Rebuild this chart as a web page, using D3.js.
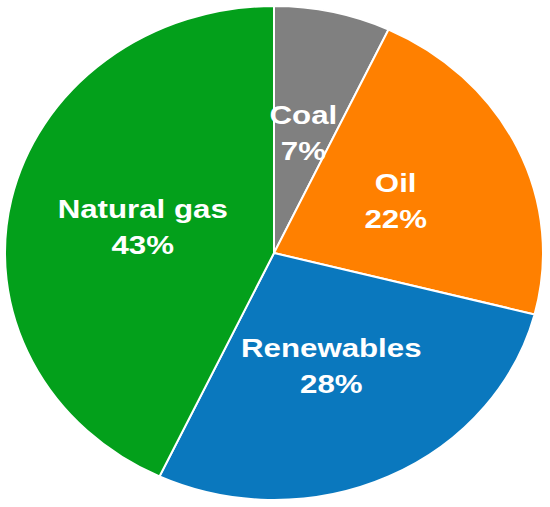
<!DOCTYPE html>
<html>
<head>
<meta charset="utf-8">
<script src="https://cdn.jsdelivr.net/npm/d3@7"></script>
<style>
  html, body { margin: 0; padding: 0; background: #fff; }
  svg { display: block; }
</style>
</head>
<body>
<svg id="chart" width="550" height="507"></svg>
<script>
const categories = ["Coal", "Oil", "Renewables", "Natural gas"];
const shares = [7, 22, 28, 43];
const colors = ["#808080", "#FF8000", "#0A78BE", "#03A01B"];

const W = 550, H = 507;
const cx = 274, cy = 253;
const ry = 247, rx = 269;
const sx = rx / ry;

const svg = d3.select("#chart");

const data = categories.map((c, i) => ({ name: c, value: shares[i], color: colors[i] }));

const pie = d3.pie().value(d => d.value).sort(null);
const arcs = pie(data);
const arc = d3.arc().innerRadius(0).outerRadius(ry);

const g = svg.append("g").attr("transform", `translate(${cx},${cy}) scale(${sx},1)`);
g.selectAll("path")
  .data(arcs)
  .join("path")
  .attr("d", arc)
  .attr("fill", d => d.data.color)
  .attr("stroke", "#fff")
  .attr("stroke-width", 2)
  .attr("vector-effect", "non-scaling-stroke");

const labels = svg.append("g");
arcs.forEach(a => {
  const [x0, y0] = arc.centroid(a);
  const x = cx + x0 * sx, y = cy + y0;
  const t = labels.append("text")
    .attr("transform", `translate(${x},${y}) scale(1.25,1)`)
    .attr("text-anchor", "middle")
    .attr("fill", "#fff")
    .attr("font-family", "'Liberation Sans', Arial, sans-serif")
    .attr("font-weight", "bold")
    .attr("font-size", 25);
  t.append("tspan").attr("x", 0).attr("y", -8).text(a.data.name);
  t.append("tspan").attr("x", 0).attr("y", 28).text(a.data.value + "%");
});
</script>
</body>
</html>
